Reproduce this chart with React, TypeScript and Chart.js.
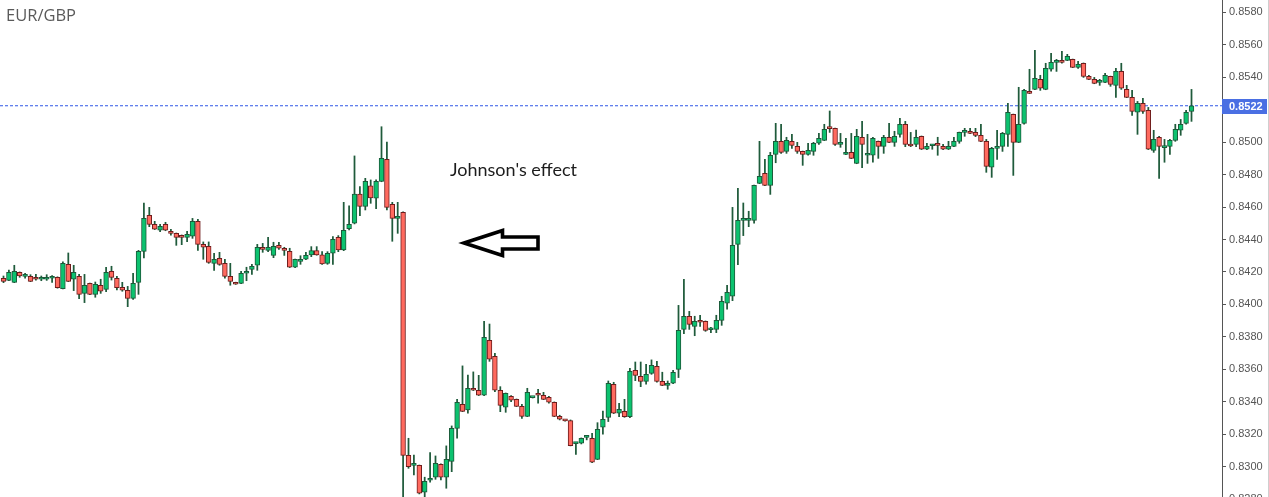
import React, { useEffect, useRef } from "react";
import { Chart, registerables } from "chart.js";

Chart.register(...registerables);

const pairName = "EUR/GBP";
const annotationText = "Johnson's effect";

const opens = [
  0.84161, 0.84148, 0.84136, 0.84198, 0.84173, 0.84173, 0.84161, 0.84155, 0.84155, 0.84161,
  0.84167, 0.84097, 0.84247, 0.84155, 0.84173, 0.84068, 0.8413, 0.84062, 0.84118, 0.84093,
  0.84204, 0.84161, 0.84105, 0.84087, 0.84037, 0.84136, 0.84327, 0.84549, 0.84493, 0.84457,
  0.84493, 0.8445, 0.84438, 0.84426, 0.84413, 0.8442, 0.84512, 0.8437, 0.84358, 0.84253,
  0.84284, 0.84253, 0.84173, 0.84136, 0.8413, 0.84192, 0.84216, 0.84241, 0.84346, 0.84333,
  0.84302, 0.84364, 0.84339, 0.84327, 0.84229, 0.84265, 0.84278, 0.84305, 0.84331, 0.84305,
  0.84253, 0.84315, 0.84413, 0.84335, 0.84467, 0.845, 0.8468, 0.84604, 0.8473, 0.84654,
  0.84758, 0.84894, 0.84617, 0.8453, 0.84567, 0.8307, 0.83008, 0.83008, 0.82842, 0.82916,
  0.82935, 0.83015, 0.82935, 0.83033, 0.83236, 0.83384, 0.83349, 0.83483, 0.83471, 0.8344,
  0.83779, 0.8368, 0.83471, 0.83366, 0.83434, 0.83415, 0.83372, 0.8331, 0.83425, 0.83446,
  0.8344, 0.83428, 0.83397, 0.8331, 0.83288, 0.83284, 0.83142, 0.83144, 0.8318, 0.83175,
  0.83045, 0.83243, 0.83304, 0.83508, 0.83329, 0.83341, 0.83308, 0.83594, 0.83557, 0.83526,
  0.83575, 0.83618, 0.83526, 0.83501, 0.83514, 0.836, 0.83846, 0.83927, 0.83865, 0.83896,
  0.83896, 0.83844, 0.83846, 0.83902, 0.84007, 0.8405, 0.8437, 0.84518, 0.84518, 0.84518,
  0.84746, 0.84808, 0.84734, 0.84925, 0.85005, 0.84943, 0.85005, 0.84974, 0.84943, 0.84925,
  0.84943, 0.84993, 0.85011, 0.85085, 0.85085, 0.84986, 0.84925, 0.84937, 0.84869, 0.8503,
  0.84919, 0.84919, 0.85005, 0.84974, 0.8503, 0.84999, 0.85048, 0.8511, 0.84986, 0.84986,
  0.85036, 0.84956, 0.84978, 0.84986, 0.84974, 0.84956, 0.84974, 0.85005, 0.8506, 0.8506,
  0.8506, 0.85042, 0.85005, 0.84845, 0.84962, 0.84974, 0.85048, 0.85171, 0.84999, 0.85116,
  0.85307, 0.85325, 0.85387, 0.85325, 0.85449, 0.85492, 0.85504, 0.85504, 0.8551, 0.85461,
  0.85486, 0.85405, 0.85387, 0.85368, 0.85368, 0.85405, 0.8535, 0.85436, 0.85325, 0.85276,
  0.85184, 0.85239, 0.85196, 0.84949, 0.8503, 0.84966, 0.84974, 0.85011, 0.85073, 0.85116,
  0.8519,
];

const highs = [
  0.84175, 0.84212, 0.84241, 0.842, 0.84192, 0.84183, 0.84185, 0.84175, 0.84183, 0.84177,
  0.8417, 0.84263, 0.84317, 0.84241, 0.84185, 0.84185, 0.84132, 0.84138, 0.84155, 0.84229,
  0.84235, 0.84173, 0.84136, 0.84111, 0.84192, 0.84333, 0.84625, 0.84598, 0.84512, 0.84493,
  0.84506, 0.84463, 0.8444, 0.84428, 0.8445, 0.8453, 0.84524, 0.84385, 0.84385, 0.84315,
  0.84321, 0.84278, 0.84253, 0.84137, 0.84204, 0.84229, 0.84247, 0.8437, 0.84376, 0.84413,
  0.84383, 0.84383, 0.84352, 0.84346, 0.8428, 0.843, 0.84321, 0.84356, 0.84356, 0.84325,
  0.84325, 0.84418, 0.84424, 0.84629, 0.84607, 0.84915, 0.84726, 0.84777, 0.84767, 0.84767,
  0.85095, 0.85001, 0.84629, 0.84629, 0.8457, 0.83175, 0.83072, 0.8301, 0.82935, 0.83087,
  0.83066, 0.83017, 0.83128, 0.83251, 0.83415, 0.83621, 0.83565, 0.83584, 0.83563, 0.83896,
  0.83879, 0.83699, 0.83493, 0.83454, 0.83438, 0.83417, 0.83384, 0.83483, 0.83427, 0.83477,
  0.83458, 0.83434, 0.83399, 0.83317, 0.8329, 0.83288, 0.8315, 0.83177, 0.83191, 0.83206,
  0.83271, 0.83343, 0.83528, 0.8352, 0.8339, 0.83415, 0.83606, 0.83645, 0.83645, 0.83631,
  0.83658, 0.83649, 0.83582, 0.83528, 0.83594, 0.83994, 0.84155, 0.83957, 0.83927, 0.83933,
  0.83898, 0.83859, 0.83933, 0.8405, 0.84118, 0.84598, 0.84715, 0.84625, 0.84574, 0.84736,
  0.85005, 0.84894, 0.84937, 0.85116, 0.8511, 0.8503, 0.85048, 0.84999, 0.84945, 0.84993,
  0.84999, 0.85054, 0.8511, 0.85192, 0.85087, 0.85054, 0.85023, 0.85054, 0.85079, 0.85128,
  0.85048, 0.8503, 0.85007, 0.85042, 0.85116, 0.85067, 0.85147, 0.85128, 0.8506, 0.85075,
  0.85038, 0.84993, 0.84986, 0.8503, 0.84986, 0.85005, 0.8503, 0.85062, 0.85085, 0.85085,
  0.85085, 0.8511, 0.85017, 0.84968, 0.85073, 0.8506, 0.85239, 0.85173, 0.85338, 0.85325,
  0.85449, 0.85566, 0.85412, 0.85486, 0.85547, 0.8551, 0.8556, 0.85541, 0.85512, 0.85498,
  0.85488, 0.85412, 0.85399, 0.85387, 0.85424, 0.85407, 0.85455, 0.85486, 0.8535, 0.85319,
  0.85251, 0.8527, 0.85214, 0.85073, 0.85036, 0.85017, 0.85017, 0.8511, 0.8514, 0.85196,
  0.85325,
];

const lows = [
  0.84134, 0.84146, 0.84134, 0.84167, 0.84161, 0.8414, 0.8415, 0.84146, 0.84148, 0.84136,
  0.841, 0.84095, 0.8414, 0.84085, 0.84035, 0.84011, 0.8406, 0.84044, 0.84068, 0.84079,
  0.8415, 0.84089, 0.84081, 0.83986, 0.84031, 0.84062, 0.84286, 0.84479, 0.84461, 0.84448,
  0.84454, 0.84426, 0.84364, 0.84368, 0.84387, 0.84407, 0.84333, 0.84278, 0.84253, 0.8421,
  0.84241, 0.84161, 0.84118, 0.84123, 0.84128, 0.84146, 0.84185, 0.8421, 0.84321, 0.84325,
  0.84288, 0.84339, 0.84302, 0.84227, 0.84226, 0.84247, 0.84276, 0.84294, 0.84303, 0.84247,
  0.84247, 0.84247, 0.84325, 0.84331, 0.84459, 0.84496, 0.84547, 0.84582, 0.84623, 0.8459,
  0.84756, 0.84582, 0.84389, 0.84438, 0.828, 0.8299, 0.82949, 0.82832, 0.82815, 0.82904,
  0.82922, 0.82918, 0.82867, 0.82969, 0.83175, 0.83339, 0.83329, 0.83469, 0.83438, 0.83438,
  0.83649, 0.83462, 0.83339, 0.83335, 0.83401, 0.8337, 0.83298, 0.83308, 0.83423, 0.83391,
  0.83413, 0.83391, 0.83308, 0.83288, 0.8328, 0.83128, 0.83076, 0.8314, 0.83165, 0.83025,
  0.83043, 0.832, 0.83278, 0.83327, 0.83308, 0.83304, 0.83302, 0.8353, 0.83493, 0.83508,
  0.83569, 0.8352, 0.83499, 0.83477, 0.83512, 0.83549, 0.8382, 0.83846, 0.83807, 0.83865,
  0.83834, 0.83826, 0.83826, 0.83871, 0.8397, 0.84023, 0.84245, 0.84424, 0.84479, 0.845,
  0.84744, 0.84732, 0.84678, 0.84873, 0.84931, 0.84931, 0.84962, 0.84931, 0.84857, 0.84919,
  0.84919, 0.84986, 0.85009, 0.8506, 0.8498, 0.84968, 0.84923, 0.84898, 0.84867, 0.84843,
  0.84869, 0.84876, 0.849, 0.84931, 0.84997, 0.84974, 0.8503, 0.84972, 0.84972, 0.84972,
  0.84954, 0.84954, 0.84956, 0.84919, 0.84954, 0.84954, 0.84972, 0.84993, 0.85036, 0.85052,
  0.85034, 0.85003, 0.84814, 0.84783, 0.84894, 0.84943, 0.84974, 0.84795, 0.84997, 0.8511,
  0.85299, 0.85323, 0.85319, 0.85323, 0.85438, 0.85436, 0.85486, 0.85502, 0.85459, 0.85455,
  0.85399, 0.85385, 0.8536, 0.8535, 0.85366, 0.85344, 0.85276, 0.85325, 0.85274, 0.85165,
  0.85048, 0.85177, 0.84954, 0.84937, 0.84777, 0.84876, 0.84925, 0.85005, 0.85042, 0.8511,
  0.85128,
];

const closes = [
  0.84142, 0.84198, 0.84204, 0.84175, 0.84183, 0.84142, 0.84155, 0.84161, 0.84167, 0.84173,
  0.84103, 0.84253, 0.84142, 0.84198, 0.84062, 0.84118, 0.84062, 0.84124, 0.84081, 0.84198,
  0.84167, 0.84103, 0.84087, 0.84037, 0.8413, 0.84327, 0.8453, 0.84493, 0.84463, 0.84481,
  0.84457, 0.84438, 0.84413, 0.84413, 0.84432, 0.84512, 0.8437, 0.84352, 0.84259, 0.84278,
  0.84247, 0.84173, 0.84142, 0.84124, 0.84192, 0.84204, 0.84235, 0.84352, 0.84339, 0.84352,
  0.84358, 0.84346, 0.84333, 0.84229, 0.84278, 0.84267, 0.84302, 0.84331, 0.84305, 0.84249,
  0.84315, 0.84401, 0.84335, 0.84457, 0.84494, 0.8468, 0.84604, 0.84758, 0.84656, 0.84758,
  0.849, 0.84598, 0.8453, 0.84543, 0.8307, 0.83, 0.83015, 0.82836, 0.8291, 0.82928,
  0.83021, 0.82935, 0.83045, 0.83236, 0.83397, 0.83341, 0.83483, 0.83471, 0.8344, 0.83797,
  0.83662, 0.83471, 0.83378, 0.83452, 0.83409, 0.83372, 0.8331, 0.83458, 0.83426, 0.8344,
  0.83415, 0.83397, 0.8331, 0.83292, 0.83282, 0.8313, 0.83146, 0.83175, 0.83182, 0.83027,
  0.8323, 0.83292, 0.83514, 0.83329, 0.83354, 0.83308, 0.83588, 0.83563, 0.83526, 0.83569,
  0.83625, 0.83526, 0.83501, 0.83514, 0.83582, 0.8384, 0.83927, 0.83877, 0.83896, 0.8389,
  0.8384, 0.83848, 0.83902, 0.84019, 0.84074, 0.84364, 0.84518, 0.8453, 0.8452, 0.84734,
  0.84789, 0.84734, 0.84919, 0.85005, 0.84937, 0.85011, 0.8498, 0.84943, 0.84925, 0.84949,
  0.84993, 0.85023, 0.85079, 0.85083, 0.84986, 0.84999, 0.84927, 0.849, 0.85036, 0.84986,
  0.84921, 0.85023, 0.84974, 0.8503, 0.84999, 0.85036, 0.8511, 0.84986, 0.84976, 0.8503,
  0.84956, 0.84974, 0.8498, 0.8498, 0.84956, 0.84974, 0.85005, 0.8506, 0.85062, 0.85054,
  0.85042, 0.85005, 0.84851, 0.84962, 0.84974, 0.85054, 0.85184, 0.84999, 0.8511, 0.85319,
  0.85301, 0.85393, 0.85332, 0.85455, 0.85492, 0.85498, 0.85492, 0.85529, 0.85461, 0.85479,
  0.85405, 0.85387, 0.85362, 0.85375, 0.85412, 0.85356, 0.85436, 0.85332, 0.85276, 0.8519,
  0.85239, 0.8519, 0.84956, 0.85017, 0.84974, 0.8497, 0.85011, 0.85079, 0.8511, 0.85184,
  0.85224,
];

const priceTicks = [
  0.828, 0.83, 0.832, 0.834, 0.836, 0.838, 0.84, 0.842, 0.844, 0.846, 0.848, 0.85, 0.852,
  0.854, 0.856, 0.858,
];

const UP_FILL = "#0cc26f";
const UP_EDGE = "#1c5a3a";
const DOWN_FILL = "#ff6a5f";
const DOWN_EDGE = "#6e1c1c";
const WICK = "#1f5b3b";
const PRICE_BLUE = "#4a6fe3";
const PRICE_LINE = "#2f57e6";
const AXIS_GREY = "#555555";

export default function App() {
  const canvasRef = useRef<HTMLCanvasElement | null>(null);

  useEffect(() => {
    const canvas = canvasRef.current;
    if (!canvas) return;
    const n = closes.length;
    const last = closes[n - 1];
    const xMin = -0.648;
    const xMax = 225.648;
    const yMin = 0.82813;
    const yMax = 0.85876;

    const up = closes.map((c, i) => c >= opens[i]);
    const bodies = closes.map((c, i) => ({ x: i, y: [opens[i], c] }));
    const wicks = closes.map((c, i) => ({ x: i, y: [lows[i], highs[i]] }));

    const priceLabel = {
      id: "priceLabel",
      afterDraw(chart: any) {
        const ys = chart.scales.y;
        const py = ys.getPixelForValue(last);
        const c = chart.ctx;
        c.save();
        c.fillStyle = PRICE_BLUE;
        c.fillRect(ys.left, Math.round(py) - 7, ys.right - ys.left, 15);
        c.fillStyle = "#ffffff";
        c.font = 'bold 11px "Liberation Sans", Arial, sans-serif';
        c.textAlign = "left";
        c.textBaseline = "middle";
        c.fillText(last.toFixed(4), ys.left + 7, Math.round(py) + 0.5);
        c.restore();
      },
    };

    const chart = new Chart(canvas, {
      type: "bar",
      data: {
        datasets: [
          {
            type: "bar",
            data: bodies as any,
            backgroundColor: up.map((u) => (u ? UP_FILL : DOWN_FILL)),
            borderColor: up.map((u) => (u ? UP_EDGE : DOWN_EDGE)),
            borderWidth: 1,
            borderSkipped: false,
            barThickness: 4.8,
            minBarLength: 2,
            grouped: false,
            order: 0,
          } as any,
          {
            type: "bar",
            data: wicks as any,
            backgroundColor: WICK,
            borderWidth: 0,
            barThickness: 1.1,
            minBarLength: 1,
            grouped: false,
            order: 1,
          } as any,
          {
            type: "line",
            data: [
              { x: xMin, y: last },
              { x: xMax, y: last },
            ],
            borderColor: PRICE_LINE,
            borderWidth: 1.1,
            borderDash: [3, 2],
            pointRadius: 0,
            order: 2,
          } as any,
        ],
      },
      options: {
        animation: false,
        responsive: false,
        maintainAspectRatio: false,
        devicePixelRatio: 1,
        layout: { padding: 0, autoPadding: false } as any,
        plugins: {
          legend: { display: false },
          tooltip: { enabled: false },
          title: { display: false },
        },
        scales: {
          x: {
            type: "linear",
            min: xMin,
            max: xMax,
            display: false,
            offset: false,
            grid: { offset: false },
          },
          y: {
            type: "linear",
            position: "right",
            min: yMin,
            max: yMax,
            afterBuildTicks: (s: any) => {
              s.ticks = priceTicks
                .filter((v) => Math.abs(v - last) > 0.0004)
                .map((v) => ({ value: v }));
            },
            afterFit: (s: any) => {
              s.width = 45;
              s.paddingTop = 0;
              s.paddingBottom = 0;
              s.paddingLeft = 0;
              s.paddingRight = 0;
            },
            ticks: {
              autoSkip: false,
              padding: 3,
              color: AXIS_GREY,
              font: { family: '"Liberation Sans", Arial, sans-serif', size: 11 },
              callback: (v: any) => Number(v).toFixed(4),
            },
            grid: {
              drawOnChartArea: false,
              drawTicks: true,
              tickLength: 4,
              color: AXIS_GREY,
            },
            border: { display: true, color: AXIS_GREY, width: 1 },
          } as any,
        },
      } as any,
      plugins: [priceLabel],
    });
    return () => chart.destroy();
  }, []);

  return (
    <div
      style={{
        position: "absolute",
        top: 0,
        left: 0,
        width: 1268,
        height: 497,
        borderRight: "1px solid #cfcfcf",
        background: "#ffffff",
        overflow: "hidden",
      }}
    >
      <canvas
        ref={canvasRef}
        width={1267}
        height={497}
        style={{ display: "block", width: 1267, height: 497 }}
      />
      <div
        style={{
          position: "absolute",
          left: 6,
          top: 7,
          fontFamily: '"Open Sans", sans-serif',
          fontSize: 16.5,
          lineHeight: "16px",
          color: "#5a5a5a",
          whiteSpace: "nowrap",
        }}
      >
        {pairName}
      </div>
      <div
        style={{
          position: "absolute",
          left: 450,
          top: 160,
          fontFamily: "Lato, sans-serif",
          fontSize: 18,
          lineHeight: "18px",
          color: "#1c1c1c",
          whiteSpace: "nowrap",
        }}
      >
        {annotationText}
      </div>
      <svg
        width={1267}
        height={497}
        style={{ position: "absolute", left: 0, top: 0, pointerEvents: "none" }}
      >
        <polygon
          points="464,243 502.5,230.5 502.5,237 538,237 538,249 502.5,249 502.5,255.5"
          fill="none"
          stroke="#000000"
          strokeWidth={3.6}
          strokeLinejoin="miter"
        />
      </svg>
    </div>
  );
}
